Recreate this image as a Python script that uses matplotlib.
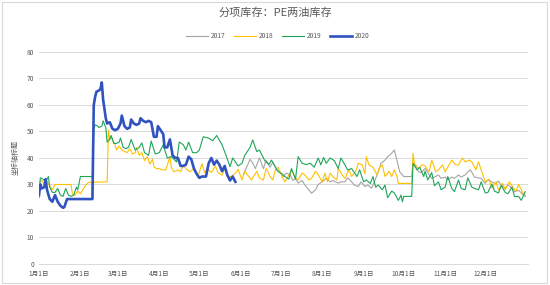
import matplotlib.pyplot as plt
from matplotlib.patches import Rectangle

plt.rcParams['font.family'] = ['Noto Sans CJK SC', 'DejaVu Sans']

# month starts (day of year, 0 = Jan 1) and their labels
month_days = [0, 31, 59, 90, 120, 151, 181, 212, 243, 273, 304, 334]
month_labels = [f"{m}月1日" for m in range(1, 13)]
years = ['2017', '2018', '2019', '2020']
colors = ['#A5A5A5', '#FFC000', '#1FA55A', '#3153C0']

# (day of year, inventory)
s2017 = [(153, 33.6), (155, 36), (158, 39.5), (160, 38), (162, 36), (165, 40), (168, 36), (170, 39.2),
         (173, 36.5), (175, 38.5), (178, 35.5), (180, 35), (183, 33), (185, 34.3), (188, 33.6), (190, 31.5),
         (192, 32.3), (194, 30.5), (197, 31.5), (199, 29.8), (202, 28), (204, 26.7), (207, 28), (209, 30),
         (212, 31), (215, 32.3), (218, 31), (220, 31.5), (224, 30.5), (226, 31), (229, 31), (231, 32.5),
         (234, 31), (236, 29.8), (239, 29.2), (241, 31), (244, 29.2), (246, 29.8), (249, 28.6), (251, 31),
         (254, 34.8), (256, 38), (259, 39.2), (261, 40.5), (264, 41.8), (266, 43), (268, 39), (270, 34.8),
         (273, 33), (279, 33), (280, 38), (282, 36.7), (284, 34.8), (286, 34.5), (289, 36), (291, 34.5),
         (294, 32.3), (296, 32.8), (299, 33.6), (301, 32.3), (304, 32.8), (306, 31.7), (309, 32.8),
         (311, 32.3), (314, 33.6), (316, 32.8), (319, 33.6), (321, 34.8), (323, 35.5), (326, 32.8),
         (331, 32.3), (334, 30.4), (336, 31.7), (339, 31), (341, 30.4), (344, 31.2), (346, 29.8),
         (349, 28.6), (351, 29.8), (354, 28.6), (356, 27.3), (359, 27.8), (361, 26.8), (364, 25.4)]

s2018 = [(0, 31), (2, 31.5), (4, 30), (6, 31), (8, 29.5), (10, 28), (12, 30), (24, 30), (25, 26.5), (27, 26),
         (29, 27.5), (31, 26.5), (33, 28.2), (35, 29.8), (37, 30.8), (51, 31), (52, 50.5), (53, 47), (54, 48),
         (55, 46.8), (57, 45), (58, 43), (60, 44.5), (62, 43), (64, 42.5), (66, 42), (68, 43.5), (70, 41.5),
         (72, 42), (73, 44), (75, 41), (77, 42), (79, 39), (81, 40.5), (83, 37.7), (85, 39.5), (86, 36.7),
         (88, 36), (90, 36), (92, 35.5), (95, 35.5), (98, 40.5), (99, 36.5), (101, 34.8), (104, 35.5),
         (106, 34.8), (108, 37.4), (110, 36), (113, 34.8), (116, 36), (118, 34.2), (119, 32.9), (122, 37.8),
         (124, 34.5), (126, 36), (129, 34.5), (132, 37), (134, 34.5), (137, 33.5), (139, 36), (141, 33),
         (144, 33), (147, 34.3), (149, 35.7), (152, 31.7), (154, 35), (157, 33), (159, 31.7), (163, 35),
         (165, 32.5), (168, 31.7), (170, 36.1), (173, 33), (175, 31.7), (177, 35.5), (179, 36.5), (182, 33),
         (184, 31), (187, 33.5), (189, 35.5), (192, 32.5), (194, 31.7), (197, 34.3), (199, 33.6), (202, 31.7),
         (204, 32.3), (207, 35), (209, 33.6), (212, 31), (214, 34.3), (216, 31), (218, 34.3), (220, 33),
         (223, 31.7), (224, 36.1), (227, 33.6), (229, 32.3), (232, 35.5), (234, 33), (237, 34.8), (239, 38),
         (242, 37.4), (244, 34), (245, 40.5), (247, 37.4), (250, 36.5), (253, 33.6), (255, 36.5), (257, 37.4),
         (259, 33), (262, 35), (264, 33), (266, 35.5), (268, 33), (269, 30.4), (279, 30.4), (280, 41.8),
         (281, 38), (284, 36), (287, 37.5), (289, 37), (292, 34.8), (294, 39.2), (297, 34.8), (299, 35.5),
         (302, 37.4), (304, 34.8), (307, 37.4), (309, 39.2), (312, 37.4), (314, 37.4), (317, 40), (319, 38.5),
         (322, 39.2), (324, 38.5), (327, 35.5), (329, 38.5), (332, 34), (334, 31), (337, 32), (339, 28.6),
         (342, 31), (344, 28), (347, 30.4), (349, 28), (352, 31), (354, 29.5), (357, 27.5), (359, 30),
         (362, 27), (364, 26)]

s2019 = [(0, 25), (1, 32.5), (3, 32), (5, 31), (7, 33), (8, 29), (10, 27), (12, 27), (14, 28.5), (16, 26),
         (18, 25.5), (20, 28.5), (22, 26), (24, 25.5), (26, 26), (28, 29), (29, 28), (31, 33), (40, 33),
         (41, 51), (42, 52.5), (44, 52), (45, 51.5), (47, 52), (48, 54), (50, 51.5), (51, 46), (53, 47),
         (54, 48.5), (56, 45.5), (58, 45.5), (60, 46), (61, 47.5), (63, 44), (65, 43.5), (67, 44), (69, 47),
         (72, 43), (75, 44), (77, 45.7), (79, 42), (82, 41), (84, 46.4), (87, 41.5), (90, 42), (93, 45),
         (96, 40), (99, 40.5), (103, 38.5), (105, 46), (108, 45), (110, 43), (112, 46), (115, 42), (118, 42),
         (120, 43), (123, 48), (127, 47.5), (130, 46.5), (133, 48.5), (137, 45), (140, 41), (143, 36.7),
         (145, 40), (149, 37), (152, 38), (154, 41), (158, 44), (160, 46.8), (163, 42.4), (165, 43), (167, 41),
         (169, 39), (172, 37.5), (174, 39.2), (177, 36.5), (179, 34.8), (182, 34), (184, 33), (187, 32),
         (189, 36), (192, 32), (194, 40.5), (197, 38), (200, 37.5), (203, 38), (206, 36.5), (209, 40),
         (211, 37.4), (213, 40.2), (215, 38), (218, 40), (221, 39), (224, 36), (226, 40), (229, 37.4),
         (231, 35.5), (234, 36), (238, 33), (240, 35.5), (243, 31), (245, 31.7), (248, 30.4), (250, 33),
         (252, 29), (254, 29.8), (257, 28), (259, 29.8), (261, 25), (264, 27.5), (266, 26.8), (269, 24),
         (271, 26), (272, 23.5), (273, 25.5), (279, 25.5), (280, 38), (283, 35.5), (285, 36.5), (288, 33),
         (289, 35), (291, 31.7), (294, 34.5), (296, 29.5), (299, 31), (301, 28), (304, 29), (306, 33),
         (309, 28.5), (311, 27.3), (314, 31.7), (316, 28.5), (319, 28), (321, 32.5), (324, 29), (326, 28.5),
         (329, 28), (331, 31), (334, 26.8), (336, 27), (339, 30.2), (341, 27.5), (344, 26.8), (346, 29.7),
         (349, 27), (351, 26.5), (354, 29), (356, 25.4), (359, 25.5), (361, 24), (364, 27.3)]

s2020 = [(0, 26), (1, 30), (2, 28.5), (4, 29), (5, 32), (6, 28), (8, 24.5), (10, 23.5), (12, 26), (14, 23.5),
         (16, 22), (18, 21.2), (19, 21.5), (21, 24.5), (40, 24.5), (41, 60), (42, 63), (43, 65), (45, 65.5),
         (46, 66), (47, 68.5), (48, 62), (50, 55), (51, 53), (53, 53.5), (55, 51), (57, 50.5), (59, 51),
         (61, 53), (62, 56), (64, 52), (66, 51), (68, 51.5), (69, 54.5), (71, 53), (73, 52.5), (75, 53),
         (76, 55), (78, 54), (80, 53.5), (82, 54), (84, 53.5), (86, 48), (88, 48), (89, 52), (91, 50.5),
         (93, 49), (94, 44), (96, 44), (98, 47), (100, 41), (102, 40), (104, 40), (106, 37), (108, 37),
         (110, 37.5), (112, 40.5), (114, 39.5), (116, 36), (118, 34), (120, 32.5), (122, 33), (125, 33),
         (127, 38), (129, 40), (131, 37.5), (133, 39), (135, 37.5), (137, 35), (139, 37), (141, 33.5),
         (143, 31.5), (145, 33), (147, 31)]

series = [s2017, s2018, s2019, s2020]
widths = [0.8, 0.8, 0.8, 1.9]

fig = plt.figure(figsize=(5.5, 2.85), dpi=100)
ax = fig.add_axes([0.0709, 0.0737, 0.889, 0.744])

for name, data, c, lw in zip(years, series, colors, widths):
    x = [d for d, v in data]
    y = [v for d, v in data]
    ax.plot(x, y, color=c, lw=lw, label=name, solid_joinstyle='round')

ax.set_xlim(0, 366)
ax.set_ylim(0, 80)
ax.set_yticks(range(0, 81, 10))
ax.set_xticks(month_days)
ax.set_xticklabels(month_labels)
ax.grid(axis='y', color='#D9D9D9', lw=0.7)
ax.set_axisbelow(True)
for s in ['top', 'right', 'left']:
    ax.spines[s].set_visible(False)
ax.spines['bottom'].set_color('#D9D9D9')
ax.spines['bottom'].set_linewidth(0.7)
ax.tick_params(length=0, labelsize=4.8, colors='#595959')
ax.tick_params(axis='x', pad=4.5)
ax.tick_params(axis='y', pad=3.5)
ax.set_ylabel('坐标轴标题', fontsize=5, color='#595959', labelpad=5)

fig.suptitle('分项库存：PE两油库存', x=0.5, y=0.975, fontsize=8, color='#595959')
fig.legend(loc='center', bbox_to_anchor=(0.505, 0.873), ncol=4, frameon=False,
           fontsize=4.8, handlelength=3.2, handletextpad=0.4, columnspacing=1.4,
           labelcolor='#595959')

fig.patches.append(Rectangle((0.004, 0.006), 0.99, 0.988, transform=fig.transFigure,
                             fill=False, edgecolor='#D9D9D9', lw=0.8))

fig.savefig('out.png', dpi=100)
